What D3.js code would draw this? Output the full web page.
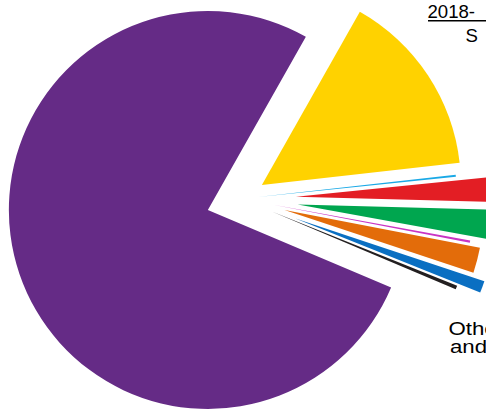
<!DOCTYPE html>
<html>
<head>
<meta charset="utf-8">
<script src="https://cdn.jsdelivr.net/npm/d3@7"></script>
<style>
  html, body { margin: 0; padding: 0; background: #fff; overflow: hidden; }
  svg { display: block; font-family: Arial, "Liberation Sans", sans-serif; }
</style>
</head>
<body>
<div id="chart"></div>
<script>
// slice shares (percent), clockwise starting at the yellow slice
const parties = ["Yellow", "Light blue", "Red", "Green", "Magenta", "Orange", "Blue", "Black", "Purple"];
const shares = [15.03, 0.17, 2.03, 2.44, 0.17, 2.06, 0.97, 0.31, 76.82];
const colours = ["#ffd200", "#1aa9e6", "#e31e24", "#00a64f", "#c935c4", "#e36c0a", "#0a6fc2", "#231f20", "#652b86"];
// how far each slice is pulled out of the pie (px)
const explode = [25, 17, 55, 57, 34, 45, 58, 34, 35];
const titleLines = ["2018-", "S"];
const noteLines = ["Others", "and"];

const width = 486;
const height = 409;
const cx = 241;
const cy = 198.7;
const radius = 199;

const svg = d3.select("#chart")
    .append("svg")
    .attr("width", width)
    .attr("height", height)
    .attr("viewBox", [0, 0, width, height]);

const startDeg = 29.5;
const pie = d3.pie()
    .sort(null)
    .value(d => d)
    .startAngle(startDeg * Math.PI / 180)
    .endAngle((startDeg + 360) * Math.PI / 180);

const arc = d3.arc().innerRadius(0).outerRadius(radius);

const g = svg.append("g").attr("transform", `translate(${cx},${cy})`);

g.selectAll("path")
    .data(pie(shares))
    .join("path")
    .attr("d", arc)
    .attr("fill", (d, i) => colours[i])
    .attr("transform", (d, i) => {
        const mid = (d.startAngle + d.endAngle) / 2;
        const e = explode[i];
        return `translate(${e * Math.sin(mid)},${-e * Math.cos(mid)})`;
    });

// title, cut off by the right edge
const title = svg.append("g")
    .attr("font-size", 18.6)
    .attr("fill", "#000");

title.append("text")
    .attr("x", 427.5)
    .attr("y", 18.3)
    .text(titleLines[0]);

title.append("line")
    .attr("x1", 428)
    .attr("x2", width)
    .attr("y1", 20.7)
    .attr("y2", 20.7)
    .attr("stroke", "#000")
    .attr("stroke-width", 1.6);

title.append("text")
    .attr("x", 465.5)
    .attr("y", 42.4)
    .text(titleLines[1]);

// note at the bottom right (the lettering is wide in the original)
svg.append("g")
    .attr("transform", "translate(448.5,0) scale(1.27,1)")
    .attr("font-size", 17.5)
    .attr("fill", "#000")
    .selectAll("text")
    .data(noteLines)
    .join("text")
    .attr("x", (d, i) => i === 0 ? 0 : 1.2)
    .attr("y", (d, i) => 335 + i * 18)
    .text(d => d);
</script>
</body>
</html>
